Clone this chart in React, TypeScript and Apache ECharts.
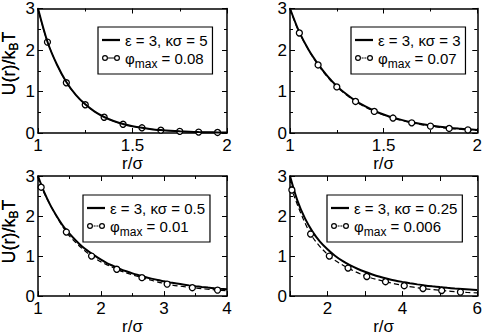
import React, { useEffect, useRef } from 'react';
import * as echarts from 'echarts';

const FONT = 'Liberation Sans, Arial, Helvetica, sans-serif';

// ---------- data ----------
// Panel 1: eps = 3, kappa*sigma = 5
const p1CurveR = [1.0, 1.05, 1.1, 1.15, 1.2, 1.25, 1.3, 1.35, 1.4, 1.45, 1.5, 1.55, 1.6, 1.65, 1.7, 1.75, 1.8, 1.85, 1.9, 1.95, 2.0];
const p1CurveU = [3.0, 2.2, 1.65, 1.23, 0.92, 0.69, 0.515, 0.386, 0.29, 0.218, 0.164, 0.124, 0.093, 0.071, 0.053, 0.04, 0.031, 0.023, 0.018, 0.013, 0.01];
const p1DotsR = [1.05, 1.15, 1.25, 1.35, 1.45, 1.55, 1.65, 1.75, 1.85, 1.95];
const p1DotsU = [2.19, 1.21, 0.68, 0.38, 0.21, 0.125, 0.068, 0.04, 0.022, 0.013];

// Panel 2: eps = 3, kappa*sigma = 3
const p2CurveR = [1.0, 1.05, 1.1, 1.15, 1.2, 1.25, 1.3, 1.35, 1.4, 1.45, 1.5, 1.55, 1.6, 1.65, 1.7, 1.75, 1.8, 1.85, 1.9, 1.95, 2.0];
const p2CurveU = [3.0, 2.43, 2.0, 1.66, 1.37, 1.13, 0.94, 0.776, 0.646, 0.537, 0.446, 0.37, 0.31, 0.258, 0.216, 0.18, 0.151, 0.126, 0.106, 0.089, 0.075];
const p2DotsR = [1.05, 1.15, 1.25, 1.35, 1.45, 1.55, 1.65, 1.75, 1.85, 1.95];
const p2DotsU = [2.41, 1.64, 1.11, 0.76, 0.52, 0.36, 0.245, 0.165, 0.11, 0.075];

// Panel 3: eps = 3, kappa*sigma = 0.5
const p3CurveR = [1.0, 1.1, 1.2, 1.3, 1.4, 1.5, 1.6, 1.7, 1.8, 1.9, 2.0, 2.1, 2.2, 2.3, 2.4, 2.5, 2.6, 2.7, 2.8, 2.9, 3.0, 3.1, 3.2, 3.3, 3.4, 3.5, 3.6, 3.7, 3.8, 3.9, 4.0];
const p3CurveU = [3.0, 2.59, 2.26, 1.99, 1.75, 1.56, 1.39, 1.24, 1.12, 1.01, 0.91, 0.82, 0.75, 0.68, 0.62, 0.567, 0.52, 0.475, 0.436, 0.4, 0.37, 0.34, 0.313, 0.29, 0.268, 0.248, 0.23, 0.213, 0.198, 0.184, 0.172];
const p3DotsR = [1.05, 1.45, 1.85, 2.25, 2.65, 3.05, 3.45, 3.85];
const p3DotsU = [2.72, 1.6, 1.0, 0.67, 0.46, 0.3, 0.21, 0.15];

// Panel 4: eps = 3, kappa*sigma = 0.25
const p4CurveR = [1.0, 1.2, 1.4, 1.6, 1.8, 2.0, 2.2, 2.4, 2.6, 2.8, 3.0, 3.2, 3.4, 3.6, 3.8, 4.0, 4.2, 4.4, 4.6, 4.8, 5.0, 5.2, 5.4, 5.6, 5.8, 6.0];
const p4CurveU = [3.0, 2.38, 1.94, 1.61, 1.36, 1.17, 1.01, 0.88, 0.773, 0.683, 0.607, 0.541, 0.484, 0.435, 0.392, 0.355, 0.322, 0.293, 0.267, 0.245, 0.225, 0.207, 0.19, 0.176, 0.163, 0.15];
const p4DotsR = [1.05, 1.55, 2.05, 2.55, 3.05, 3.55, 4.05, 4.55, 5.05, 5.55];
const p4DotsU = [2.65, 1.55, 1.0, 0.7, 0.49, 0.36, 0.26, 0.19, 0.14, 0.1];

// dashed/connecting line end points (no symbol)
const dotLineStart = [3.0, 3.0, 2.98, 2.95];
const dotLineEnd = [0.01, 0.065, 0.135, 0.08];

const curveNames = ['ε = 3, κσ = 5', 'ε = 3, κσ = 3', 'ε = 3, κσ = 0.5', 'ε = 3, κσ = 0.25'];
const dotNames = ['φmax = 0.08', 'φmax = 0.07', 'φmax = 0.01', 'φmax = 0.006'];

const xMin = [1, 1, 1, 1];
const xMax = [2, 2, 4, 6];
const xInterval = [0.5, 0.5, 1, 1];
const yMin = 0;
const yMax = 3;
const yInterval = 1;
const xLabel = 'r/σ';

const panels = [
  { cr: p1CurveR, cu: p1CurveU, dr: p1DotsR, du: p1DotsU },
  { cr: p2CurveR, cu: p2CurveU, dr: p2DotsR, du: p2DotsU },
  { cr: p3CurveR, cu: p3CurveU, dr: p3DotsR, du: p3DotsU },
  { cr: p4CurveR, cu: p4CurveU, dr: p4DotsR, du: p4DotsU },
];

// ---------- layout ----------
const grids = [
  { left: 38, top: 8, width: 189, height: 125 },
  { left: 290, top: 8, width: 188, height: 125 },
  { left: 38, top: 176, width: 189, height: 125 },
  { left: 290, top: 176, width: 188, height: 125 },
];
const legendPos = [
  { left: 98, top: 27 },
  { left: 351, top: 27 },
  { left: 83, top: 195 },
  { left: 327, top: 195 },
];
const dashedLine = [false, true, true, true];

const ring = (cx: number) =>
  `M${cx - 3},3A3,3 0 1 1 ${cx + 3},3A3,3 0 1 1 ${cx - 3},3Z` +
  `M${cx - 1.8},3A1.8,1.8 0 1 0 ${cx + 1.8},3A1.8,1.8 0 1 0 ${cx - 1.8},3Z`;
const iconDotsSolid = 'path://' + ring(3) + ring(15) + 'M6,2.4h6v1.2h-6Z';
const iconDotsDashed = 'path://' + ring(3) + ring(15) + 'M6.6,2.4h2v1.2h-2ZM9.4,2.4h2v1.2h-2Z';
const iconLine = 'path://M0,0h16v2h-16Z';

const frameLine = { show: true, onZero: false, lineStyle: { color: '#000', width: 1.5 } };
const tick = { show: true, inside: true, length: 5, lineStyle: { color: '#000', width: 1 } };
const minor = { show: true, splitNumber: 2, length: 3, lineStyle: { color: '#000', width: 1 } };
const labelStyle = { color: '#000', fontSize: 17, fontFamily: FONT };

function buildOption() {
  const xAxis: any[] = [];
  const yAxis: any[] = [];
  const series: any[] = [];
  const legend: any[] = [];
  const graphic: any[] = [];

  panels.forEach((p, i) => {
    const evenOnly = xMax[i] === 6;
    xAxis.push({
      type: 'value', gridIndex: i, position: 'bottom',
      min: xMin[i], max: xMax[i], interval: xInterval[i],
      axisLine: frameLine, axisTick: tick,
      minorTick: evenOnly ? { show: false } : minor,
      splitLine: { show: false }, minorSplitLine: { show: false },
      axisLabel: {
        ...labelStyle, margin: 4,
        formatter: (v: number) => (evenOnly ? (v % 2 === 0 ? String(v) : '') : String(v)),
      },
      name: xLabel, nameLocation: 'middle', nameGap: 19,
      nameTextStyle: { color: '#000', fontSize: 17, fontFamily: FONT },
    });
    xAxis.push({
      type: 'value', gridIndex: i, position: 'top',
      min: xMin[i], max: xMax[i], interval: xInterval[i],
      axisLine: frameLine, axisTick: tick,
      minorTick: evenOnly ? { show: false } : minor,
      splitLine: { show: false }, axisLabel: { show: false },
    });
    yAxis.push({
      type: 'value', gridIndex: i, position: 'left',
      min: yMin, max: yMax, interval: yInterval,
      axisLine: frameLine, axisTick: tick, minorTick: minor,
      splitLine: { show: false },
      axisLabel: { ...labelStyle, margin: 3 },
    });
    yAxis.push({
      type: 'value', gridIndex: i, position: 'right',
      min: yMin, max: yMax, interval: yInterval,
      axisLine: frameLine, axisTick: tick, minorTick: minor,
      splitLine: { show: false }, axisLabel: { show: false },
    });

    series.push({
      type: 'line', name: curveNames[i],
      xAxisIndex: 2 * i, yAxisIndex: 2 * i,
      data: p.cr.map((r, k) => [r, p.cu[k]]),
      smooth: 0.3,
      symbol: 'none',
      lineStyle: { color: '#000', width: 2 },
      itemStyle: { color: '#000' },
      z: 2,
    });

    const dotData: any[] = [{ value: [xMin[i], dotLineStart[i]], symbol: 'none' }];
    p.dr.forEach((r, k) => dotData.push({ value: [r, p.du[k]] }));
    dotData.push({ value: [xMax[i], dotLineEnd[i]], symbol: 'none' });

    series.push({
      type: 'line', name: dotNames[i],
      xAxisIndex: 2 * i, yAxisIndex: 2 * i,
      data: dotData,
      smooth: 0.3,
      symbol: 'circle', symbolSize: 6, showAllSymbol: true,
      itemStyle: { color: '#fff', borderColor: '#000', borderWidth: 1.3 },
      lineStyle: { color: '#000', width: dashedLine[i] ? 1.2 : 1, type: dashedLine[i] ? [5, 3] : 'solid' },
      z: dashedLine[i] ? 3 : 1,
    });

    legend.push({
      orient: 'vertical',
      left: legendPos[i].left, top: legendPos[i].top,
      padding: [4, 5, 4, 4],
      itemGap: 0,
      itemWidth: 18, itemHeight: 7,
      borderColor: '#000', borderWidth: 1.2, borderRadius: 0,
      backgroundColor: '#fff',
      selectedMode: false,
      data: [
        { name: curveNames[i], icon: iconLine, itemStyle: { color: '#000', borderWidth: 0 } },
        {
          name: dotNames[i],
          icon: dashedLine[i] ? iconDotsDashed : iconDotsSolid,
          itemStyle: { color: '#000', borderWidth: 0 },
        },
      ],
      formatter: (name: string) => {
        if (name.startsWith('φmax')) {
          return '{n|φ}{s|max}{n|' + name.slice(4) + '}';
        }
        return '{n|' + name + '}';
      },
      textStyle: {
        color: '#000', fontSize: 15, fontFamily: FONT, lineHeight: 18,
        rich: {
          n: { color: '#000', fontSize: 15, fontFamily: FONT, lineHeight: 18 },
          s: {
            color: '#000', fontSize: 12, fontFamily: FONT, lineHeight: 10,
            verticalAlign: 'top', padding: [9, 0, 0, 0],
          },
        },
      },
    });

    const g = grids[i];
    graphic.push({
      type: 'text',
      x: 9,
      y: g.top + g.height / 2 - 7,
      rotation: Math.PI / 2,
      style: {
        text: '{a|U(r)/k}{b|B}{a|T}',
        align: 'center',
        verticalAlign: 'middle',
        rich: {
          a: { fill: '#000', fontSize: 18, fontFamily: FONT, lineHeight: 22 },
          b: {
            fill: '#000', fontSize: 12, fontFamily: FONT, lineHeight: 12,
            verticalAlign: 'top', padding: [10, 0, 0, 0],
          },
        },
      },
    });
  });

  return {
    animation: false,
    backgroundColor: '#fff',
    grid: grids,
    xAxis, yAxis, series, legend, graphic,
  };
}

export default function App() {
  const ref = useRef<HTMLDivElement>(null);
  useEffect(() => {
    if (!ref.current) return;
    const chart = echarts.init(ref.current, undefined, { renderer: 'svg' });
    chart.setOption(buildOption() as any);
    return () => chart.dispose();
  }, []);
  return (
    <div
      ref={ref}
      style={{ position: 'fixed', left: 0, top: 0, width: 485, height: 336 }}
    />
  );
}
